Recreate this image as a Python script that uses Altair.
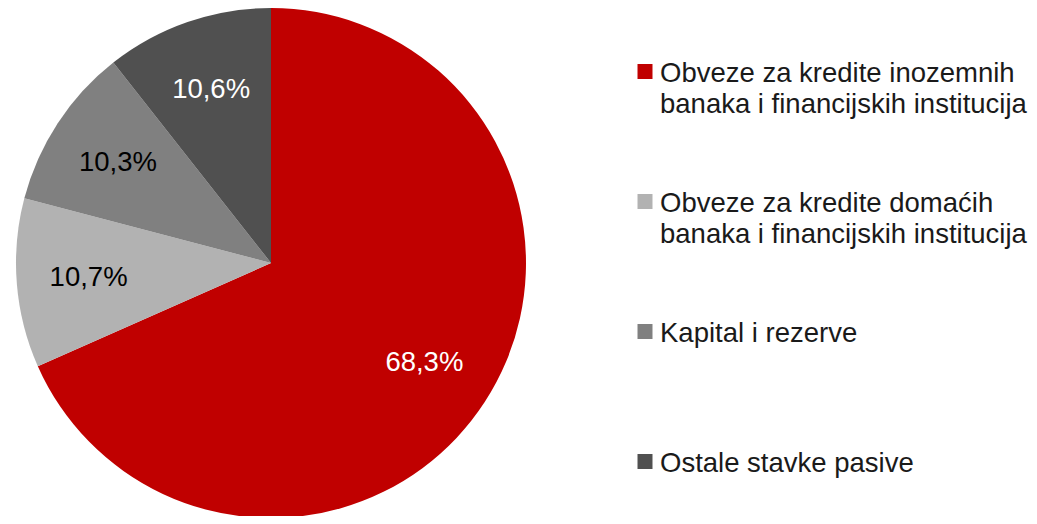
import altair as alt
import pandas as pd

categories = [
    "Obveze za kredite inozemnih\nbanaka i financijskih institucija",
    "Obveze za kredite domaćih\nbanaka i financijskih institucija",
    "Kapital i rezerve",
    "Ostale stavke pasive",
]
values = [68.3, 10.7, 10.3, 10.6]
slice_colors = ["#C00000", "#B2B2B2", "#808080", "#505050"]
label_colors = ["#FFFFFF", "#000000", "#000000", "#FFFFFF"]

df = pd.DataFrame({
    "category": categories,
    "value": values,
    "idx": list(range(len(categories))),
    "label": [f"{v:.1f}".replace(".", ",") + "%" for v in values],
})

FONT = "Liberation Sans"
CX, CY, R = 263, 255, 255

color_scale = alt.Scale(domain=categories, range=slice_colors)

base = alt.Chart(df).encode(
    theta=alt.Theta("value:Q", stack=True),
    order=alt.Order("idx:Q", sort="ascending"),
)

arcs = base.mark_arc(outerRadius=R, stroke=None).encode(
    color=alt.Color("category:N", scale=color_scale, legend=None),
    x=alt.value(CX),
    y=alt.value(CY),
)

labels = base.mark_text(radius=183, font=FONT, fontSize=27.5).encode(
    text="label:N",
    color=alt.Color("category:N", scale=alt.Scale(domain=categories, range=label_colors), legend=None),
    x=alt.value(CX),
    y=alt.value(CY),
)

ypos = alt.Y("category:N", scale=alt.Scale(type="point", domain=categories, range=[63.5, 453.5], padding=0), axis=None)

squares = alt.Chart(df).mark_square(size=225, opacity=1).encode(
    y=ypos,
    x=alt.value(637),
    color=alt.Color("category:N", scale=color_scale, legend=None),
)

legend_text = alt.Chart(df).mark_text(
    align="left", baseline="top", dy=-12, font=FONT, fontSize=27.5,
    lineBreak="\n", lineHeight=31, color="#1a1a1a",
).encode(
    y=ypos,
    x=alt.value(652),
    text="category:N",
)

chart = alt.layer(arcs, labels, squares, legend_text).resolve_scale(
    color="independent"
).properties(
    width=1021, height=508, padding=0,
    autosize=alt.AutoSizeParams(type="none"),
).configure_view(strokeWidth=0)

chart.save("out.html", embed_options={"renderer": "svg", "actions": False})
